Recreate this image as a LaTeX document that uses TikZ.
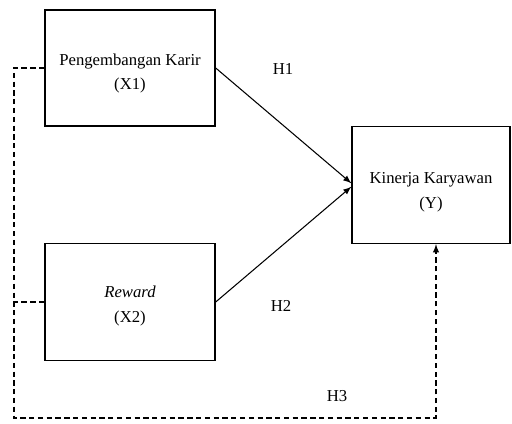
\documentclass[tikz,border=0pt]{standalone}
\usepackage{fontspec}
\setmainfont{Liberation Serif}
\usetikzlibrary{arrows.meta, positioning}

\tikzset{
  varbox/.style={draw, line width=0.8pt, align=center, inner sep=0pt,
    font=\fontsize{9.5}{14}\selectfont},
  hlabel/.style={font=\fontsize{9.5}{12}\selectfont},
  dashline/.style={dash pattern=on 3pt off 2pt, line width=0.6pt}
}

\begin{document}
\begin{tikzpicture}[>=latex, x=0.2mm, y=-0.2mm]
\useasboundingbox (0,0) rectangle (512,424);
\node[varbox, minimum width=3.4cm, minimum height=2.32cm] (X1) at (130,68) {\rule{0pt}{4.5mm}Pengembangan Karir\\(X1)};
\node[varbox, minimum width=3.4cm, minimum height=2.34cm] (X2) at (130,302) {\rule{0pt}{4mm}\textit{Reward}\\(X2)};
\node[varbox, minimum width=3.16cm, minimum height=2.34cm] (Y) at (431,185) {\rule{0pt}{5mm}Kinerja Karyawan\\(Y)};
\coordinate (bl) at (14,418);

\draw[->, line width=0.6pt] (X1.east) -- ([yshift=1pt]Y.west);
\draw[->, line width=0.6pt] (X2.east) -- ([yshift=-1pt]Y.west);
\draw[->, dashline] (X1.west) -| (bl) -| ([xshift=1mm]Y.south);
\draw[dashline] (X2.west) -- (X2.west -| bl);

\node[hlabel] (h1) at (283,69) {H1};
\node[hlabel] (h2) at (281,306) {H2};
\node[hlabel] (h3) at (337,396) {H3};
\end{tikzpicture}
\end{document}
